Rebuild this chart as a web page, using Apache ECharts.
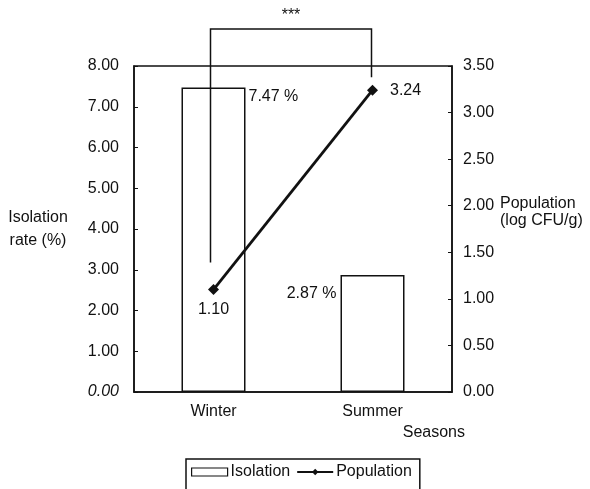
<!DOCTYPE html>
<html>
<head>
<meta charset="utf-8">
<script src="https://cdn.jsdelivr.net/npm/echarts@6/dist/echarts.min.js"></script>
<style>
  html, body { margin: 0; padding: 0; background: #fff; }
  #chart { width: 590px; height: 489px; }
</style>
</head>
<body>
<div id="chart"></div>
<script>
const seasons = ["Winter", "Summer"];
const isolationRate = [7.47, 2.87];
const population = [1.10, 3.24];
const leftTicks = { min: 0, max: 8, interval: 1 };
const rightTicks = { min: 0, max: 3.5, interval: 0.5 };

const font = "Liberation Sans, Arial, sans-serif";
const ink = "#111";
const fs = 16;

const chart = echarts.init(document.getElementById("chart"), null, { renderer: "canvas" });

const barData = isolationRate.map((v, i) => ({
  value: v,
  label: i === 0
    ? { position: ["100%", 0], align: "left", verticalAlign: "top", offset: [3, 1] }
    : { position: [0, 0], align: "right", verticalAlign: "top", offset: [-4, 11] },
}));

const lineData = population.map((v, i) => ({
  value: v,
  label: i === 0
    ? { position: "bottom", distance: 7 }
    : { position: "right", distance: 12 },
}));

chart.setOption({
  backgroundColor: "#fff",
  animation: false,
  textStyle: { fontFamily: font, color: ink },
  grid: {
    left: 134, right: 138, top: 66, bottom: 97,
    show: true, borderColor: ink, borderWidth: 1.5, backgroundColor: "transparent",
  },
  legend: {
    data: [{ name: "Isolation", icon: "rect", itemStyle: { borderWidth: 1.2 } }, "Population"],
    left: 186, top: 459,
    padding: [5, 8, 20, 5],
    borderColor: ink, borderWidth: 1.5,
    itemWidth: 36, itemHeight: 8, itemGap: 6,
    textStyle: { fontSize: fs, color: ink, fontFamily: font, padding: [0, 0, 0, -2] },
  },
  xAxis: {
    type: "category",
    data: seasons,
    name: "Seasons",
    nameLocation: "end",
    nameGap: 13,
    nameTextStyle: { fontSize: fs, color: ink, align: "right", verticalAlign: "top", padding: [33, 0, 0, 0] },
    axisLine: { lineStyle: { color: ink, width: 1.5 } },
    axisTick: { inside: true, length: 5, lineStyle: { color: ink } },
    axisLabel: { fontSize: fs, color: ink, margin: 12 },
  },
  yAxis: [
    {
      type: "value",
      ...leftTicks,
      name: "Isolation\nrate (%)",
      nameLocation: "middle",
      nameRotate: 0,
      nameGap: 62,
      nameTextStyle: { fontSize: fs, color: ink, align: "center", padding: [0, 0, 0, -68], lineHeight: 23 },
      axisLine: { show: true, lineStyle: { color: ink, width: 1.5 } },
      axisTick: { show: true, inside: true, length: 4, lineStyle: { color: ink } },
      splitLine: { show: false },
      axisLabel: {
        fontSize: fs, color: ink, margin: 15,
        formatter: v => v === 0 ? "{i|0.00}" : v.toFixed(2),
        rich: { i: { fontStyle: "italic", fontSize: fs, color: ink } },
      },
    },
    {
      type: "value",
      ...rightTicks,
      name: "Population\n(log CFU/g)",
      nameLocation: "middle",
      nameRotate: 0,
      nameGap: 47,
      nameTextStyle: { fontSize: fs, color: ink, align: "left", verticalAlign: "bottom", lineHeight: 17 },
      axisLine: { show: true, lineStyle: { color: ink, width: 1.5 } },
      axisTick: { show: true, inside: true, length: 4, lineStyle: { color: ink } },
      splitLine: { show: false },
      axisLabel: { fontSize: fs, color: ink, margin: 11, formatter: v => v.toFixed(2) },
    },
  ],
  series: [
    {
      name: "Isolation",
      type: "bar",
      yAxisIndex: 0,
      barWidth: 64,
      data: barData,
      itemStyle: { color: "#fff", borderColor: ink, borderWidth: 1.5 },
      label: { show: true, fontSize: fs, color: ink, formatter: p => p.value.toFixed(2) + " %" },
    },
    {
      name: "Population",
      type: "line",
      yAxisIndex: 1,
      data: lineData,
      symbol: "diamond",
      symbolSize: 11,
      lineStyle: { color: ink, width: 2.8 },
      itemStyle: { color: ink },
      label: { show: true, fontSize: fs, color: ink, formatter: p => p.value.toFixed(2) },
    },
  ],
});

// significance bracket between the two seasons
const pW = chart.convertToPixel({ xAxisIndex: 0, yAxisIndex: 1 }, [seasons[0], population[0]]);
const pS = chart.convertToPixel({ xAxisIndex: 0, yAxisIndex: 1 }, [seasons[1], population[1]]);
const topY = 29;
const xL = pW[0] - 3, xR = pS[0] - 1;
chart.setOption({
  graphic: [
    {
      type: "polyline",
      z: 100,
      shape: { points: [[xL, pW[1] - 27], [xL, topY], [xR, topY], [xR, pS[1] - 13]] },
      style: { stroke: ink, lineWidth: 1.5, fill: null },
    },
    {
      type: "text",
      z: 100,
      x: (xL + xR) / 2, y: topY - 13,
      style: { text: "***", fontSize: fs, fontFamily: font, fill: ink, align: "center", verticalAlign: "middle" },
    },
  ],
});
</script>
</body>
</html>
